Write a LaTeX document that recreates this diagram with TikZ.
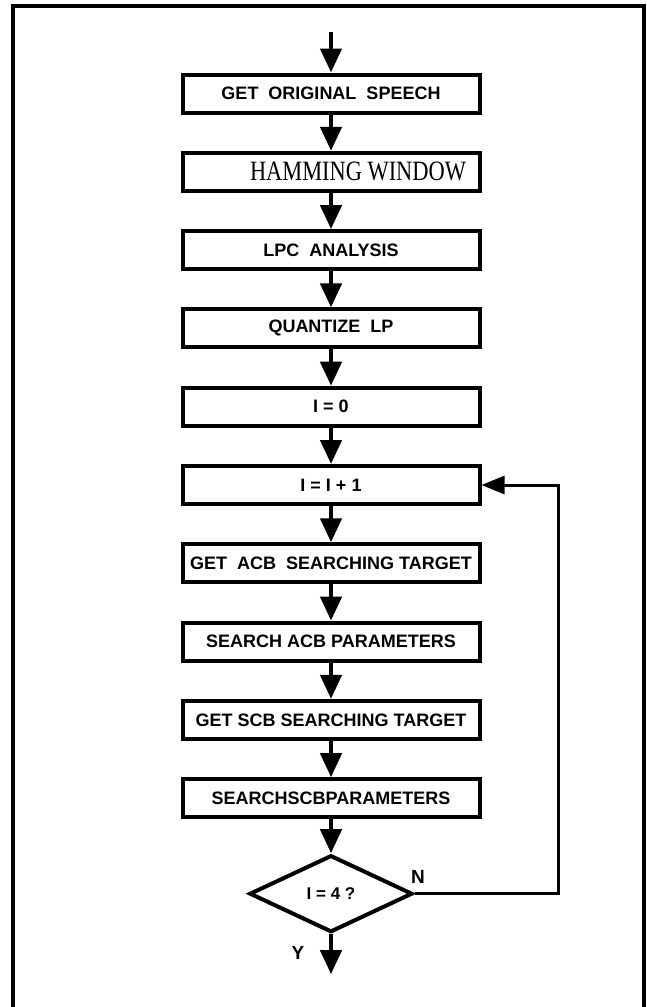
\documentclass[tikz,border=0pt]{standalone}
\usepackage{fontspec}
\setmainfont{Liberation Sans}
\newfontfamily\hamfont{Liberation Serif}
\usetikzlibrary{arrows.meta,positioning,shapes.geometric}

\tikzset{
  stepbox/.style={draw, line width=4pt, minimum width=297pt, minimum height=38pt,
    inner sep=0pt, font=\fontsize{18}{20}\selectfont\bfseries},
  decision/.style={draw, diamond, aspect=2.1, line width=4pt, minimum width=163pt,
    minimum height=77pt, inner sep=0pt, font=\fontsize{17}{19}\selectfont\bfseries},
  lbl/.style={font=\fontsize{19}{21}\selectfont\bfseries},
  flow/.style={line width=4.5pt, -{Triangle[width=21pt,length=24pt]}},
  backflow/.style={line width=3pt, -{Triangle[width=18pt,length=23pt]}}
}

\begin{document}
\begin{tikzpicture}[x=1pt, y=-1pt, node distance=36.3pt]
  \useasboundingbox (0,0) rectangle (646,1007);
  % frame
  \draw[line width=4.5pt] (13,1007) -- (13,6) -- (644,6) -- (644,1007);

  % processing steps
  \node[stepbox] (speech) at (331,93.5) {GET~ ORIGINAL~ SPEECH};
  \node[stepbox, below=of speech, font=\hamfont] (hamming)
    {\hspace*{54pt}\scalebox{0.8}[1]{\fontsize{28}{30}\selectfont HAMMING WINDOW}};
  \node[stepbox, below=of hamming] (lpc) {LPC~ ANALYSIS};
  \node[stepbox, below=of lpc] (quant) {QUANTIZE~ LP};
  \node[stepbox, below=of quant] (izero) {I = 0};
  \node[stepbox, below=of izero] (iinc) {I = I + 1};
  \node[stepbox, below=of iinc] (acbtgt) {GET~ ACB~ SEARCHING TARGET};
  \node[stepbox, below=of acbtgt] (acbsrch) {SEARCH ACB PARAMETERS};
  \node[stepbox, below=of acbsrch] (scbtgt) {GET SCB SEARCHING TARGET};
  \node[stepbox, below=of scbtgt] (scbsrch) {SEARCHSCBPARAMETERS};
  \node[decision, below=34pt of scbsrch] (check) {I = 4 ?};

  % free ends
  \coordinate (start) at (331,32);
  \coordinate (stop) at ([yshift=-40pt]check.south);
  \coordinate (fbx) at (558,0);

  % arrows
  \draw[flow] (start) -- (speech);
  \draw[flow] (speech) -- (hamming);
  \draw[flow] (hamming) -- (lpc);
  \draw[flow] (lpc) -- (quant);
  \draw[flow] (quant) -- (izero);
  \draw[flow] (izero) -- (iinc);
  \draw[flow] (iinc) -- (acbtgt);
  \draw[flow] (acbtgt) -- (acbsrch);
  \draw[flow] (acbsrch) -- (scbtgt);
  \draw[flow] (scbtgt) -- (scbsrch);
  \draw[flow] (scbsrch) -- (check);
  \draw[flow] (check) -- (stop);

  % loop back
  \draw[backflow] (check.east) -- (check.east -| fbx) -- (iinc.east -| fbx) -- (iinc.east);

  % branch labels
  \node[lbl] (ylbl) at (298,953) {Y};
  \node[lbl] (nlbl) at (418,877) {N};
\end{tikzpicture}
\end{document}
